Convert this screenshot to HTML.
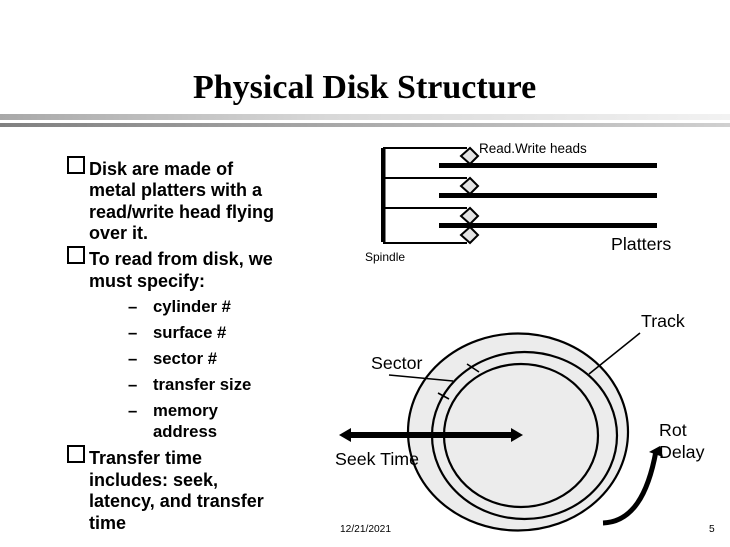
<!DOCTYPE html>
<html>
<head>
<meta charset="utf-8">
<style>
html,body{margin:0;padding:0;background:#fff}
#p{position:relative;width:730px;height:547px;overflow:hidden;background:#fff;font-family:"Liberation Sans",sans-serif;color:#000}
.t{position:absolute;white-space:nowrap;line-height:1}
.b{font-weight:bold;font-size:18px}
.s{font-weight:bold;font-size:16.7px}
.n{font-size:17.8px}
.box{position:absolute;width:18px;height:18px;border:2px solid #000;box-sizing:border-box}
svg{position:absolute;left:0;top:0}
</style>
</head>
<body>
<div id="p">
<div style="position:absolute;left:0;top:114px;width:730px;height:6px;background:linear-gradient(90deg,#a8a8a8,#d8d8d8 45%,#f2f2f2)"></div>
<div style="position:absolute;left:0;top:123px;width:730px;height:4px;background:linear-gradient(90deg,#808080,#a8a8a8 45%,#d0d0d0)"></div>

<svg width="730" height="547" viewBox="0 0 730 547">
  <ellipse cx="518" cy="432" rx="110" ry="98.5" fill="#ececec" stroke="#000" stroke-width="2.2"/>
  <ellipse cx="524.5" cy="435.5" rx="92.5" ry="83.5" fill="#ececec" stroke="#000" stroke-width="2.2"/>
  <ellipse cx="521" cy="435.5" rx="77" ry="71.5" fill="#ececec" stroke="#000" stroke-width="2.2"/>
  <line x1="389" y1="375" x2="453" y2="381" stroke="#000" stroke-width="1.6"/>
  <line x1="467" y1="364" x2="479" y2="372" stroke="#000" stroke-width="1.6"/>
  <line x1="438" y1="393" x2="449" y2="399" stroke="#000" stroke-width="1.6"/>
  <line x1="589" y1="374" x2="640" y2="333" stroke="#000" stroke-width="1.6"/>
  <rect x="350" y="432" width="162" height="6" fill="#000"/>
  <polygon points="339,435 351,428 351,442" fill="#000"/>
  <polygon points="523,435 511,428 511,442" fill="#000"/>
  <path d="M603 523 C632 522 648 495 656 451" fill="none" stroke="#000" stroke-width="5"/>
  <polygon points="660,446 649,452 663,457" fill="#000"/>

  <rect x="381" y="148" width="4.5" height="94" fill="#000"/>
  <line x1="383" y1="148" x2="467" y2="148" stroke="#000" stroke-width="2"/>
  <line x1="383" y1="178" x2="467" y2="178" stroke="#000" stroke-width="2"/>
  <line x1="383" y1="208" x2="467" y2="208" stroke="#000" stroke-width="2"/>
  <line x1="383" y1="243" x2="467" y2="243" stroke="#000" stroke-width="2"/>
  <rect x="439" y="163" width="218" height="5" fill="#000"/>
  <rect x="439" y="193" width="218" height="5" fill="#000"/>
  <rect x="439" y="223" width="218" height="5" fill="#000"/>
  <g fill="#e4e4e4" stroke="#000" stroke-width="2">
    <polygon points="470,148 478,156 470,164 461,156"/>
    <polygon points="470,178 478,186 470,194 461,186"/>
    <polygon points="470,208 478,216 470,224 461,216"/>
    <polygon points="470,227 478,235 470,243 461,235"/>
  </g>
</svg>

<div class="t" style="left:193px;top:71px;font-family:'Liberation Serif',serif;font-size:34px;font-weight:bold">Physical Disk Structure</div>

<div class="box" style="left:67px;top:156px"></div>
<div class="box" style="left:67px;top:246px"></div>
<div class="box" style="left:67px;top:445px"></div>

<div class="t b" style="left:89px;top:160px">Disk are made of</div>
<div class="t b" style="left:89px;top:181px">metal platters with a</div>
<div class="t b" style="left:89px;top:203px">read/write head flying</div>
<div class="t b" style="left:89px;top:224px">over it.</div>
<div class="t b" style="left:89px;top:250px">To read from disk, we</div>
<div class="t b" style="left:89px;top:272px">must specify:</div>
<div class="t s" style="left:128px;top:299px">–</div><div class="t s" style="left:153px;top:299px">cylinder #</div>
<div class="t s" style="left:128px;top:325px">–</div><div class="t s" style="left:153px;top:325px">surface #</div>
<div class="t s" style="left:128px;top:351px">–</div><div class="t s" style="left:153px;top:351px">sector #</div>
<div class="t s" style="left:128px;top:377px">–</div><div class="t s" style="left:153px;top:377px">transfer size</div>
<div class="t s" style="left:128px;top:403px">–</div><div class="t s" style="left:153px;top:403px">memory</div>
<div class="t s" style="left:153px;top:424px">address</div>
<div class="t b" style="left:89px;top:449px">Transfer time</div>
<div class="t b" style="left:89px;top:471px">includes:  seek,</div>
<div class="t b" style="left:89px;top:492px">latency, and transfer</div>
<div class="t b" style="left:89px;top:514px">time</div>

<div class="t" style="left:479px;top:142px;font-size:13.5px">Read.Write heads</div>
<div class="t" style="left:365px;top:251px;font-size:12px">Spindle</div>
<div class="t n" style="left:611px;top:236px">Platters</div>
<div class="t n" style="left:641px;top:313px">Track</div>
<div class="t n" style="left:371px;top:355px">Sector</div>
<div class="t n" style="left:335px;top:451px">Seek Time</div>
<div class="t n" style="left:659px;top:422px">Rot</div>
<div class="t n" style="left:659px;top:444px">Delay</div>
<div class="t" style="left:340px;top:525px;font-size:10.2px">12/21/2021</div>
<div class="t" style="left:709px;top:525px;font-size:10.2px">5</div>
</div>
</body>
</html>
